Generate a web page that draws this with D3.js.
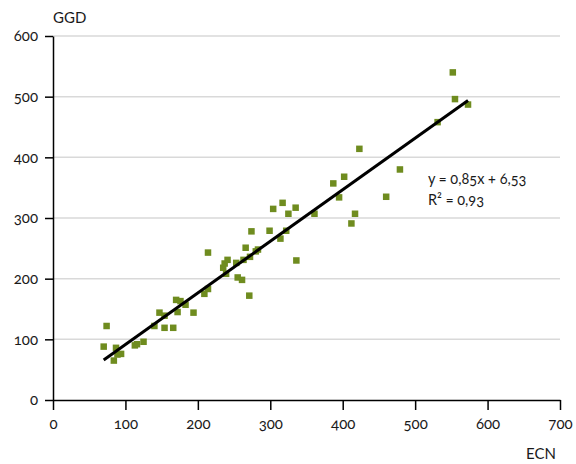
<!DOCTYPE html>
<html>
<head>
<meta charset="utf-8">
<script src="https://cdn.jsdelivr.net/npm/d3@7"></script>
<style>
  html, body { margin: 0; padding: 0; background: #fff; }
  svg { display: block; }
  text {
    font-family: Lato, "Open Sans", "Noto Sans", sans-serif;
    font-variant-numeric: oldstyle-nums;
    font-feature-settings: "onum" 1;
    fill: #1a1a1a;
  }
</style>
</head>
<body>
<svg id="chart" width="576" height="464"></svg>
<script>
// ECN (x) versus GGD (y), one entry per observation
const ecn = [74, 70, 87, 84, 89, 94, 113, 116, 125, 140, 147, 154, 154, 166, 170, 176, 172, 183, 194,
             209, 214, 214, 235, 237, 239, 241, 253, 255, 261, 263, 266, 271, 272, 274, 280, 283,
             299, 304, 314, 317, 322, 325, 335, 336, 361, 387, 395, 402, 412, 417, 423, 460, 479,
             531, 552, 555, 573];
const ggd = [122, 88, 86, 65, 75, 76, 90, 92, 96, 122, 144, 139, 119, 119, 165, 163, 145, 157, 144,
             175, 183, 243, 218, 225, 208, 231, 226, 202, 198, 231, 251, 172, 236, 278, 245, 248,
             279, 315, 266, 325, 279, 307, 317, 230, 307, 357, 334, 368, 291, 307, 414, 335, 380,
             458, 540, 496, 487];

// Linear trend line and its label
const slope = 0.85;
const intercept = 6.53;
const rSquared = 0.93;

const xTicks = [0, 100, 200, 300, 400, 500, 600, 700];
const yTicks = [0, 100, 200, 300, 400, 500, 600];

const fmt = v => String(v).replace(".", ",");

const svg = d3.select("#chart");
const plotLeft = 53, plotRight = 560, plotTop = 36, plotBottom = 400;

const x = d3.scaleLinear().domain([0, 700]).range([plotLeft, plotRight]);
const y = d3.scaleLinear().domain([0, 600]).range([plotBottom, plotTop]);

// horizontal gridlines
svg.append("g")
  .selectAll("line")
  .data(yTicks.filter(d => d > 0))
  .join("line")
  .attr("x1", plotLeft).attr("x2", plotRight)
  .attr("y1", d => y(d)).attr("y2", d => y(d))
  .attr("stroke", "#d9d9d9")
  .attr("stroke-width", 1.5);

// y axis
const yAxis = svg.append("g")
  .attr("transform", `translate(${plotLeft},0)`)
  .call(d3.axisLeft(y).tickValues(yTicks).tickSize(8).tickPadding(7).tickSizeOuter(0));
yAxis.select(".domain").attr("stroke", "#000").attr("stroke-width", 1.5);
yAxis.selectAll(".tick line").attr("stroke", "#000").attr("stroke-width", 1.5);
yAxis.selectAll(".tick text").attr("font-size", 15).attr("fill", "#1a1a1a")
  .style("font-family", "Lato, 'Open Sans', sans-serif");

// x axis
const xAxis = svg.append("g")
  .attr("transform", `translate(0,${plotBottom})`)
  .call(d3.axisBottom(x).tickValues(xTicks).tickSize(10).tickPadding(8).tickSizeOuter(0));
xAxis.select(".domain").attr("stroke", "#000").attr("stroke-width", 1.5);
xAxis.selectAll(".tick line").attr("stroke", "#000").attr("stroke-width", 1.5);
xAxis.selectAll(".tick text").attr("font-size", 15).attr("fill", "#1a1a1a")
  .style("font-family", "Lato, 'Open Sans', sans-serif");

// axis titles
svg.append("text").attr("x", 53).attr("y", 23).attr("font-size", 15).text("GGD");
svg.append("text").attr("x", 556).attr("y", 459).attr("text-anchor", "end")
  .attr("font-size", 15).text("ECN");

// data points
const pts = d3.zip(ecn, ggd);
const s = 6.5;
svg.append("g")
  .selectAll("rect")
  .data(pts)
  .join("rect")
  .attr("x", d => x(d[0]) - s / 2)
  .attr("y", d => y(d[1]) - s / 2)
  .attr("width", s).attr("height", s)
  .attr("fill", "#6f8c1f");

// trend line across the data range
const [xMin, xMax] = d3.extent(ecn);
svg.append("line")
  .attr("x1", x(xMin)).attr("y1", y(slope * xMin + intercept))
  .attr("x2", x(xMax)).attr("y2", y(slope * xMax + intercept))
  .attr("stroke", "#000")
  .attr("stroke-width", 3);

// equation label
const eq = svg.append("g").attr("font-size", 14.5);
eq.append("text").attr("x", 428).attr("y", 184)
  .text(`y = ${fmt(slope)}x + ${fmt(intercept)}`);
eq.append("text").attr("x", 428).attr("y", 205)
  .text(`R² = ${fmt(rSquared)}`);
</script>
</body>
</html>
